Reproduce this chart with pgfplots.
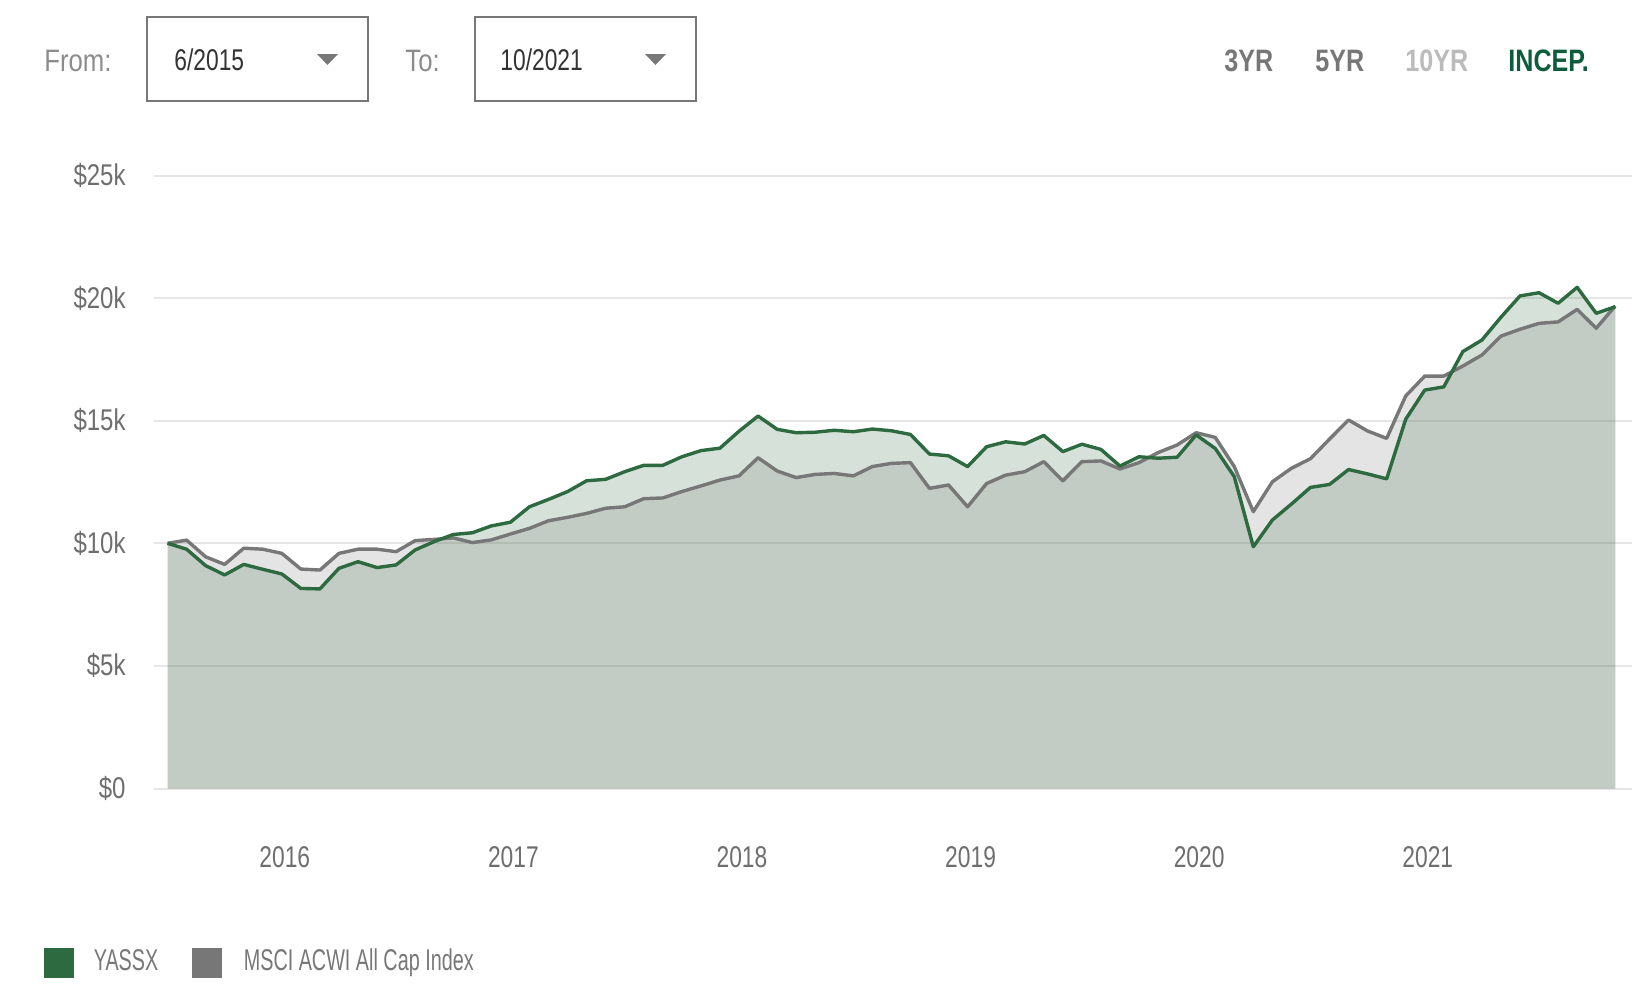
\documentclass[border=0pt]{standalone}
\usepackage{fontspec}
\setmainfont[FakeStretch=0.76]{Liberation Sans}
\newfontfamily\legfont[FakeStretch=0.66]{Liberation Sans}
\newfontfamily\hdrfont[FakeStretch=0.81]{Liberation Sans}
\newfontfamily\lblfont[FakeStretch=0.83]{Liberation Sans}
\newfontfamily\yfont[FakeStretch=0.8]{Liberation Sans}
\usepackage{pgfplots}
\usepackage{pgfplotstable}
\pgfplotsset{compat=1.18}
\definecolor{fundgreen}{HTML}{2D6A3F}
\definecolor{idxgray}{HTML}{777777}
\definecolor{ticktext}{HTML}{6E6E6E}
\definecolor{gridc}{HTML}{E6E6E6}
\definecolor{incep}{HTML}{0D5C3C}
\definecolor{lightlbl}{HTML}{8C8C8C}
\definecolor{darktxt}{HTML}{333333}
\definecolor{tenyr}{HTML}{BBBBBB}

\pgfplotstableread{
i yassx msci
0 10.00 10.00
1 9.76 10.13
2 9.09 9.45
3 8.71 9.14
4 9.14 9.80
5 8.94 9.76
6 8.75 9.59
7 8.16 8.95
8 8.14 8.91
9 8.98 9.59
10 9.25 9.76
11 9.01 9.76
12 9.12 9.66
13 9.73 10.11
14 10.07 10.16
15 10.36 10.22
16 10.43 10.03
17 10.71 10.14
18 10.86 10.38
19 11.49 10.61
20 11.79 10.92
21 12.11 11.06
22 12.55 11.22
23 12.61 11.43
24 12.92 11.49
25 13.18 11.82
26 13.18 11.85
27 13.53 12.11
28 13.78 12.34
29 13.88 12.58
30 14.57 12.75
31 15.19 13.49
32 14.65 12.95
33 14.51 12.68
34 14.53 12.81
35 14.61 12.85
36 14.55 12.75
37 14.66 13.13
38 14.59 13.26
39 14.44 13.29
40 13.64 12.24
41 13.57 12.38
42 13.13 11.49
43 13.94 12.44
44 14.14 12.78
45 14.05 12.92
46 14.40 13.33
47 13.74 12.55
48 14.04 13.33
49 13.83 13.36
50 13.15 13.03
51 13.53 13.29
52 13.47 13.70
53 13.51 14.01
54 14.42 14.51
55 13.87 14.32
56 12.72 13.13
57 9.86 11.29
58 10.95 12.51
59 11.60 13.06
60 12.28 13.45
61 12.40 14.25
62 13.01 15.03
63 12.83 14.58
64 12.63 14.28
65 15.06 16.01
66 16.25 16.82
67 16.38 16.82
68 17.82 17.23
69 18.29 17.68
70 19.22 18.45
71 20.09 18.73
72 20.22 18.97
73 19.79 19.03
74 20.44 19.54
75 19.38 18.77
76 19.65 19.68
}\datatable

\begin{document}
\begin{tikzpicture}
\path[use as bounding box] (0pt,0pt) rectangle (816pt,-501pt);

% header
\node[anchor=base west, inner sep=0pt, text=lightlbl, font=\lblfont\fontsize{15.5}{18}\selectfont] at (22pt,-35.5pt) {From:};
\draw[idxgray, line width=1pt] (73.5pt,-8.5pt) rectangle (184pt,-50.5pt);
\node[anchor=base west, inner sep=0pt, text=darktxt, font=\fontsize{15}{18}\selectfont] at (87pt,-35pt) {6/2015};
\fill[idxgray] (158.5pt,-27pt) -- (169pt,-27pt) -- (163.75pt,-32.5pt) -- cycle;

\node[anchor=base west, inner sep=0pt, text=lightlbl, font=\lblfont\fontsize{15.5}{18}\selectfont] at (202.5pt,-35.5pt) {To:};
\draw[idxgray, line width=1pt] (237.5pt,-8.5pt) rectangle (348pt,-50.5pt);
\node[anchor=base west, inner sep=0pt, text=darktxt, font=\fontsize{15}{18}\selectfont] at (250pt,-35pt) {10/2021};
\fill[idxgray] (322.5pt,-27pt) -- (333pt,-27pt) -- (327.75pt,-32.5pt) -- cycle;

\node[anchor=base west, inner sep=0pt, text=idxgray, font=\hdrfont\bfseries\fontsize{15.5}{18}\selectfont] at (612pt,-35.5pt) {3YR};
\node[anchor=base west, inner sep=0pt, text=idxgray, font=\hdrfont\bfseries\fontsize{15.5}{18}\selectfont] at (657.5pt,-35.5pt) {5YR};
\node[anchor=base west, inner sep=0pt, text=tenyr, font=\hdrfont\bfseries\fontsize{15.5}{18}\selectfont] at (702.5pt,-35.5pt) {10YR};
\node[anchor=base west, inner sep=0pt, text=incep, font=\hdrfont\bfseries\fontsize{15.5}{18}\selectfont] at (754pt,-35.5pt) {INCEP.};

\begin{axis}[
  at={(77pt,-394.25pt)}, anchor=south west,
  scale only axis, width=739pt, height=306.5pt,
  xmin=-0.71, xmax=76.88, ymin=0, ymax=25,
  axis line style={draw=none},
  ymajorgrids, grid style={gridc, line width=1pt},
  ytick={0,5,10,15,20,25},
  yticklabels={\$0,\$5k,\$10k,\$15k,\$20k,\$25k},
  xtick={6,18,30,42,54,66},
  xticklabels={2016,2017,2018,2019,2020,2021},
  major tick length=0pt, tick style={draw=none},
  ticklabel style={font=\fontsize{15}{18}\selectfont, text=ticktext, inner sep=0pt},
  yticklabel style={font=\yfont\fontsize{15}{18}\selectfont, anchor=east, xshift=-14pt},
  xticklabel style={anchor=base, yshift=-39.5pt, xshift=1.5pt},
  clip=false,
]
\addplot[draw=none, fill=fundgreen, fill opacity=0.2] table[x=i, y=yassx]{\datatable} \closedcycle;
\addplot[draw=none, fill=idxgray, fill opacity=0.2] table[x=i, y=msci]{\datatable} \closedcycle;
\addplot[idxgray, line width=1.7pt, line join=round, mark=none] table[x=i, y=msci]{\datatable};
\addplot[fundgreen, line width=1.7pt, line join=round, mark=none] table[x=i, y=yassx]{\datatable};
\end{axis}

% legend
\fill[fundgreen] (22pt,-473.8pt) rectangle (37pt,-488.8pt);
\node[anchor=base west, inner sep=0pt, text=idxgray, font=\legfont\fontsize{15}{18}\selectfont] at (46.7pt,-485.3pt) {YASSX};
\fill[idxgray] (96.2pt,-473.8pt) rectangle (111pt,-488.8pt);
\node[anchor=base west, inner sep=0pt, text=idxgray, font=\legfont\fontsize{15}{18}\selectfont] at (121.7pt,-485.3pt) {MSCI ACWI All Cap Index};
\end{tikzpicture}
\end{document}
